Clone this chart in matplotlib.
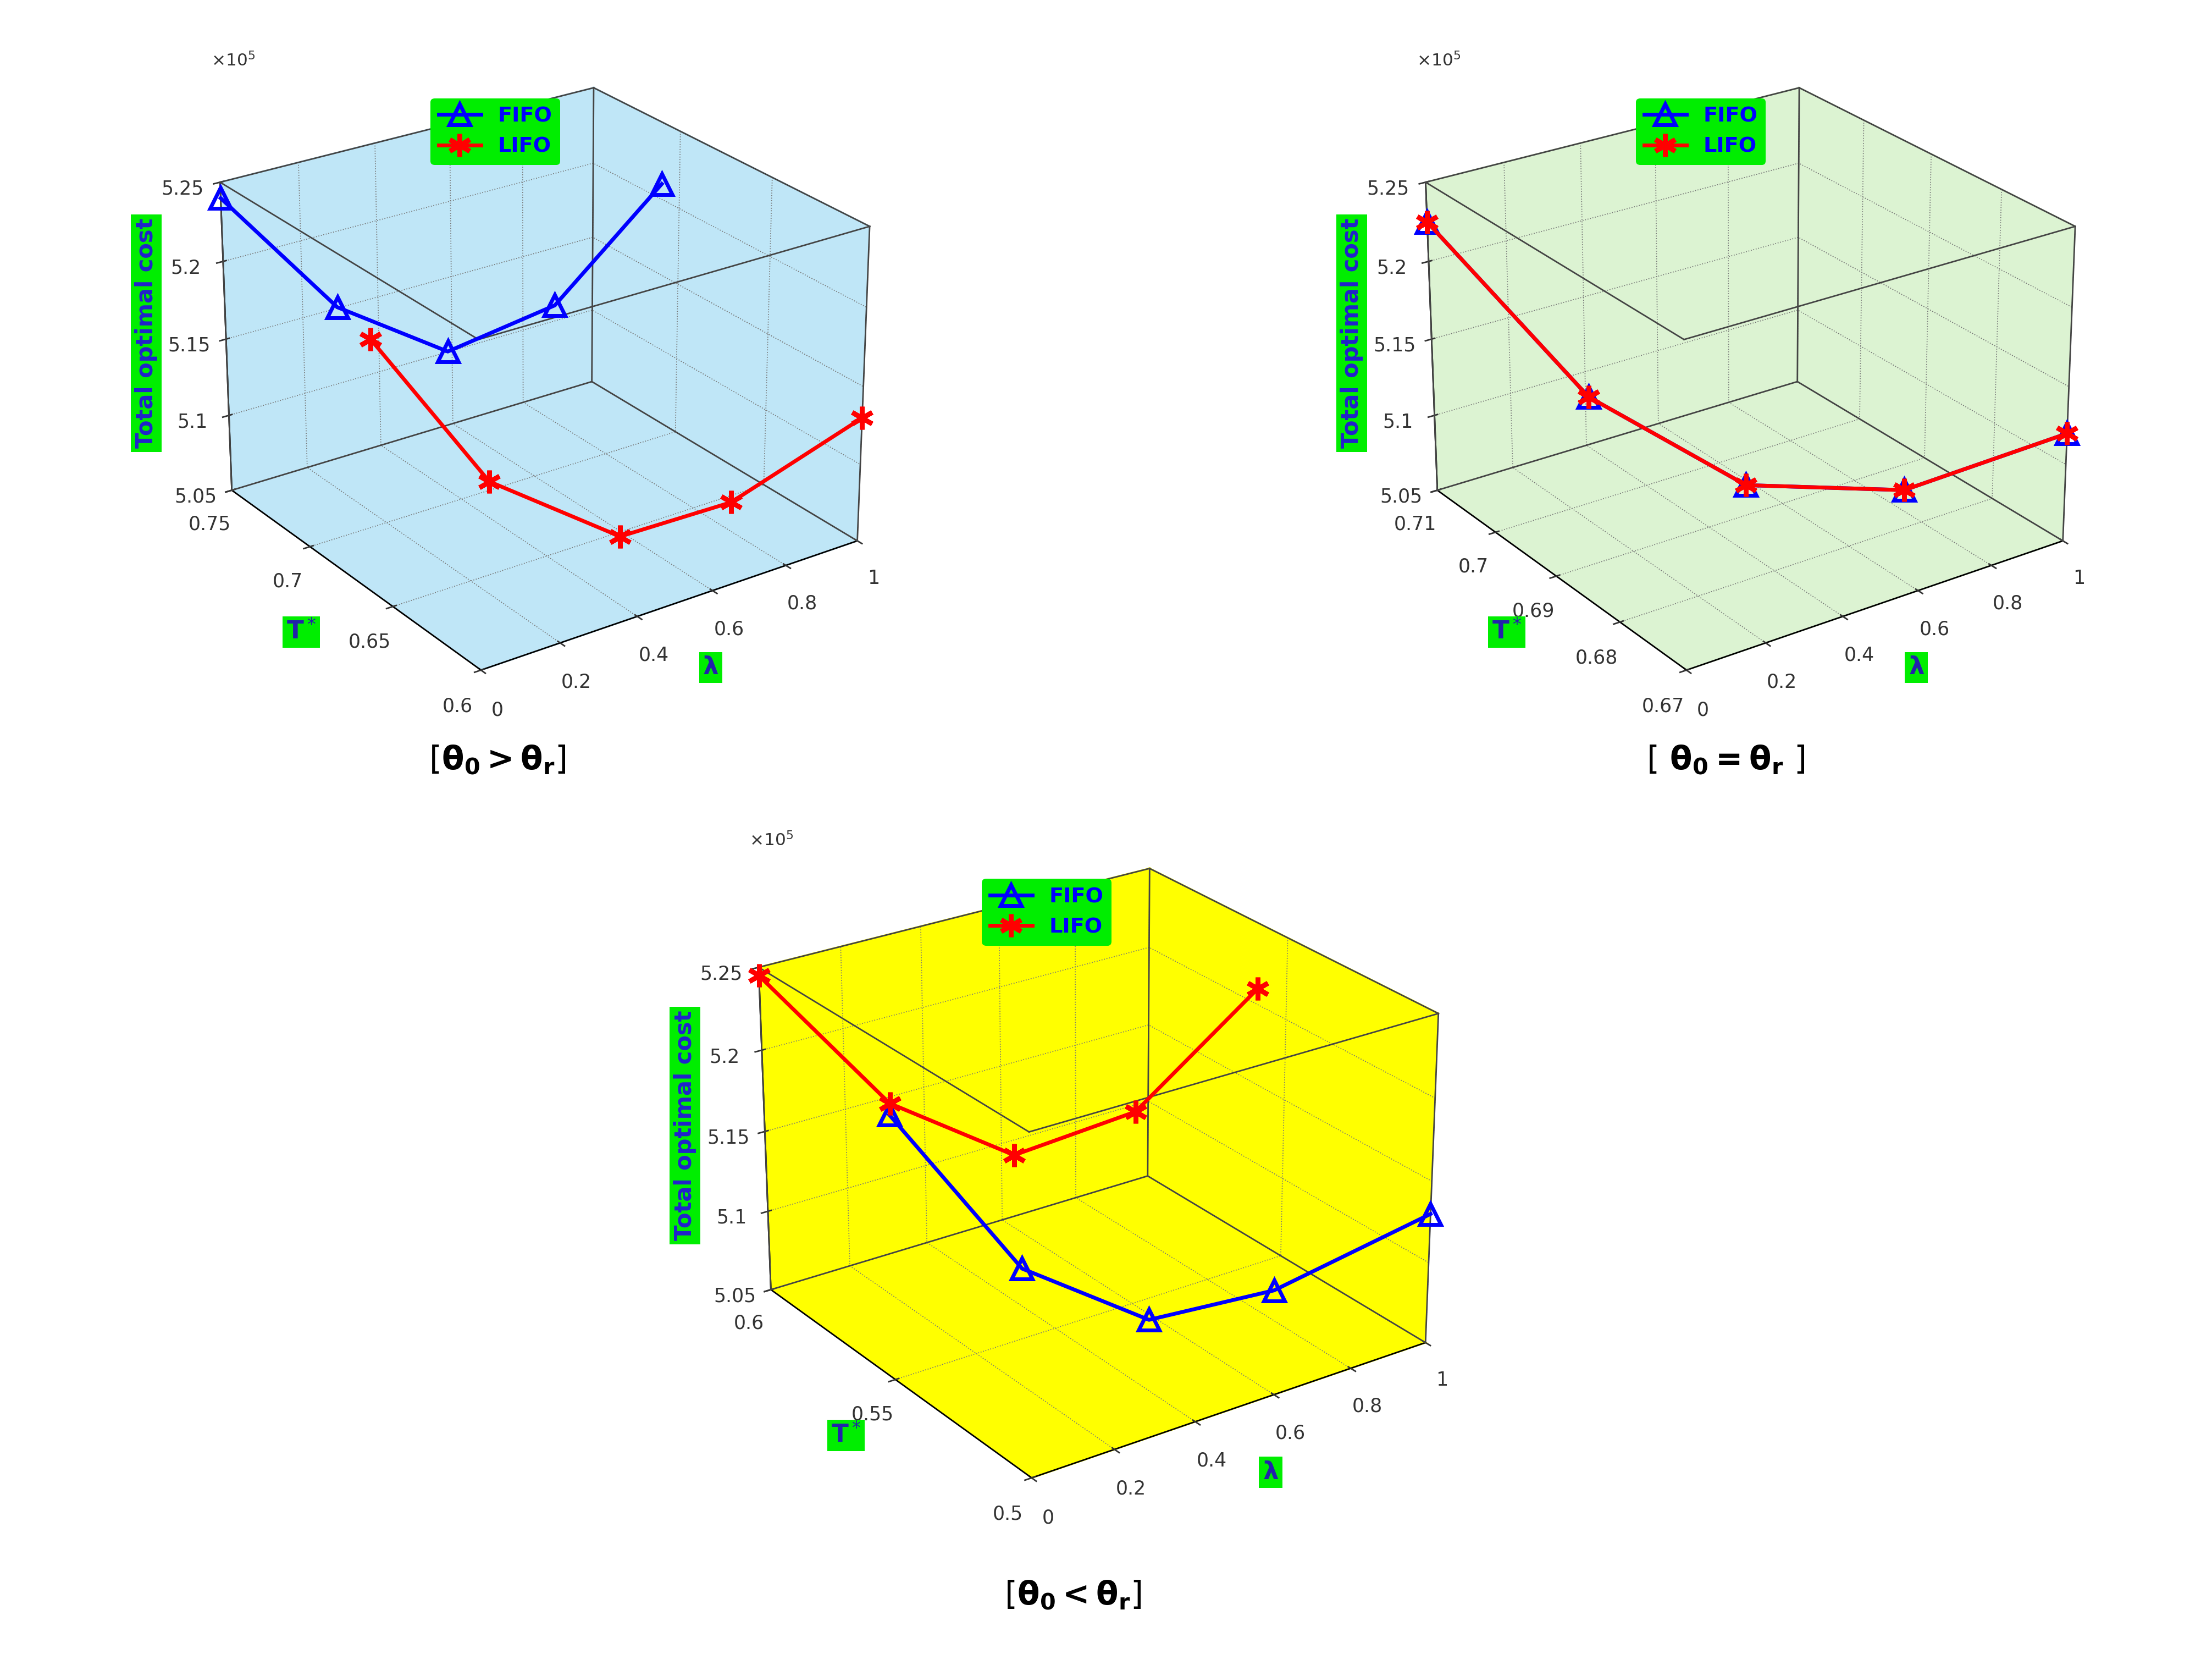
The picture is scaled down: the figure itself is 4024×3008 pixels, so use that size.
import numpy as np
import matplotlib.pyplot as plt

lam = [0, 0.25, 0.5, 0.75, 1.0]

# panel 1: theta0 > thetar
p1_fifo_T = [0.75, 0.74, 0.73, 0.72, 0.71]
p1_fifo_c = [5.24, 5.16, 5.12, 5.14, 5.21]
p1_lifo_T = [0.66, 0.65, 0.63, 0.62, 0.60]
p1_lifo_c = [5.21, 5.11, 5.07, 5.08, 5.13]

# panel 2: theta0 = thetar
p2_T = [0.71, 0.70, 0.69, 0.68, 0.67]
p2_c = [5.225, 5.12, 5.07, 5.075, 5.12]

# panel 3: theta0 < thetar
p3_lifo_T = [0.60, 0.59, 0.58, 0.57, 0.56]
p3_lifo_c = [5.245, 5.16, 5.12, 5.14, 5.21]
p3_fifo_T = [0.55, 0.54, 0.53, 0.52, 0.50]
p3_fifo_c = [5.21, 5.11, 5.07, 5.08, 5.13]

GREEN = '#00ee00'

def panel(rect, pane, fifo, lifo, tlim, tticks, caption, capxy):
    ax = fig.add_axes(rect, projection='3d')
    ax.view_init(elev=25, azim=-125)
    for a in (ax.xaxis, ax.yaxis, ax.zaxis):
        a.set_pane_color(pane)
        a._axinfo['grid'].update(color='#777777', linewidth=0.5, linestyle=':')
    # box edges
    x0, x1 = 0, 1
    y0, y1 = tlim
    z0, z1 = 5.05, 5.25
    edges = [((x0, x1), (y1, y1), (z0, z0)), ((x1, x1), (y0, y1), (z0, z0)),
             ((x1, x1), (y1, y1), (z0, z1)), ((x0, x1), (y1, y1), (z1, z1)),
             ((x1, x1), (y0, y1), (z1, z1)), ((x0, x0), (y1, y1), (z0, z1)),
             ((x1, x1), (y0, y0), (z0, z1)), ((x0, x1), (y0, y0), (z1, z1)),
             ((x0, x0), (y0, y1), (z1, z1))]
    for e in edges:
        ax.plot(*e, color='#444444', lw=0.8)
    ax.plot(fifo[0], fifo[1], fifo[2], color='blue', marker='^', mfc='none',
            ms=11, mew=2, lw=2, label='FIFO')
    ax.plot(lifo[0], lifo[1], lifo[2], color='red', marker=(6, 2, 0), ms=12,
            mew=2.5, lw=2, label='LIFO')
    ax.set_xlim(0, 1)
    ax.set_ylim(*tlim)
    ax.set_zlim(5.05, 5.25)
    ax.set_xticks([0, 0.2, 0.4, 0.6, 0.8, 1])
    ax.set_xticklabels(['0', '0.2', '0.4', '0.6', '0.8', '1'])
    ax.set_yticks(tticks)
    ax.set_yticklabels([('%g' % t) for t in tticks])
    ax.set_zticks([5.05, 5.1, 5.15, 5.2, 5.25])
    ax.set_zticklabels(['5.05', '5.1', '5.15', '5.2', '5.25'])
    ax.tick_params(labelsize=10, colors='#333333')
    bb = dict(facecolor=GREEN, edgecolor='none', pad=2)
    for a in (ax.xaxis, ax.yaxis, ax.zaxis):
        a.set_rotate_label(False)
    ax.set_xlabel('λ', fontsize=13, fontweight='bold', color='#2222aa', bbox=bb)
    ax.set_ylabel('T$^*$', fontsize=13, fontweight='bold', color='#2222aa', bbox=bb)
    ax.set_zlabel('Total optimal cost', fontsize=12, fontweight='bold',
                  color='#2222cc', bbox=bb, rotation=90)
    ax.text2D(0.05, 0.93, r'$\times10^5$', transform=ax.transAxes, fontsize=9,
              color='#333333')
    leg = ax.legend(loc='upper center', bbox_to_anchor=(0.45, 0.9), fontsize=11,
                    facecolor=GREEN, edgecolor='none', framealpha=1)
    for t in leg.get_texts():
        t.set_color('blue')
        t.set_fontweight('bold')
    fig.text(capxy[0], capxy[1], caption, fontsize=17, ha='center')
    return ax

fig = plt.figure(figsize=(16.096, 12.032), dpi=250)

panel([0.0, 0.56, 0.48, 0.43], '#bfe6f7',
      (lam, p1_fifo_T, p1_fifo_c), (lam, p1_lifo_T, p1_lifo_c),
      (0.6, 0.75), [0.6, 0.65, 0.7, 0.75], r'$[\mathbf{\theta_0 > \theta_r}]$',
      (0.225, 0.535))
panel([0.57, 0.56, 0.43, 0.43], '#dcf3d2',
      (lam, p2_T, p2_c), (lam, p2_T, p2_c),
      (0.67, 0.71), [0.67, 0.68, 0.69, 0.7, 0.71],
      r'$[\ \mathbf{\theta_0 = \theta_r}\ ]$', (0.78, 0.535))
panel([0.26, 0.07, 0.46, 0.45], '#ffff00',
      (lam, p3_fifo_T, p3_fifo_c), (lam, p3_lifo_T, p3_lifo_c),
      (0.5, 0.6), [0.5, 0.55, 0.6], r'$[\mathbf{\theta_0 < \theta_r}]$',
      (0.485, 0.03))

fig.savefig('out.png', dpi=250)
